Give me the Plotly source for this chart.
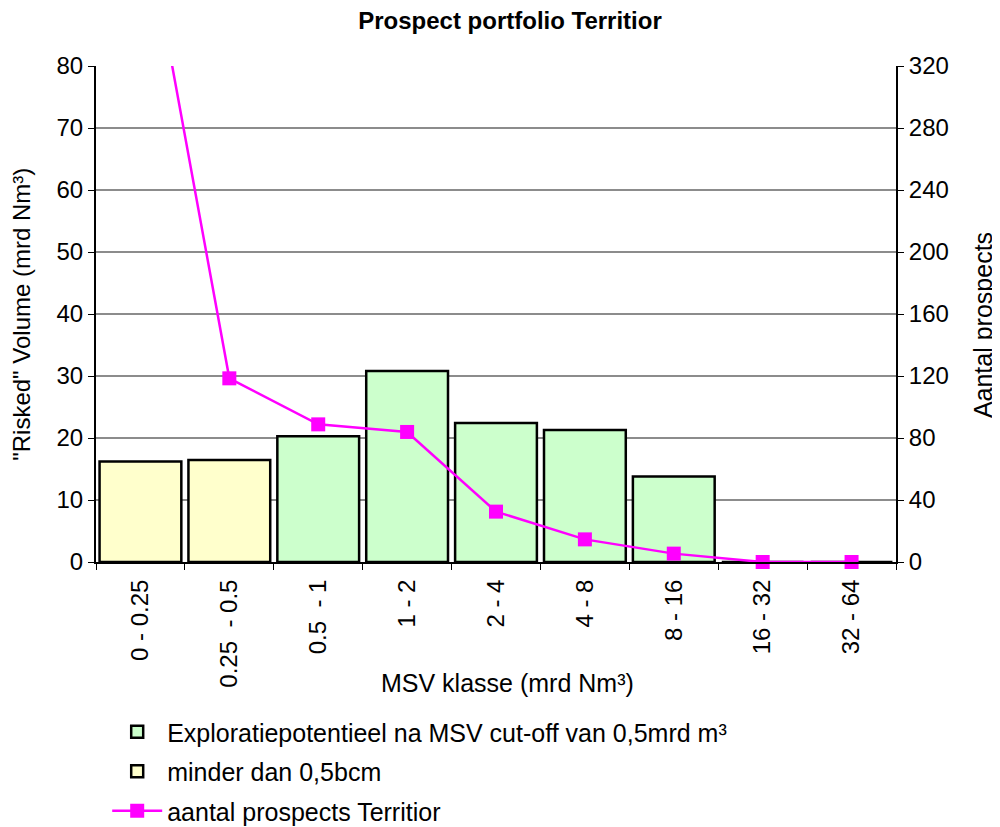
import plotly.graph_objects as go

# MSV classes and values
klassen = ["0 - 0.25", "0.25\u00a0\u00a0- 0.5", "0.5\u00a0\u00a0- 1", "1 - 2", "2 - 4",
           "4 - 8", "8 - 16", "16 - 32", "32 - 64"]
volume_laag = [16.2, 16.45, None, None, None, None, None, None, None]
volume_explo = [None, None, 20.3, 30.8, 22.4, 21.3, 13.8, 0, 0]
aantal = [432, 118.5, 88.8, 83.9, 32.5, 14.6, 5.4, 0, 0]

font = "Liberation Sans, Arial, sans-serif"
fs = 25

fig = go.Figure()
fig.add_trace(go.Bar(x=klassen, y=volume_explo, name="Exploratiepotentieel na MSV cut-off van 0,5mrd m³",
                     legendgroup="a",
                     marker=dict(color="#CCFFCC", line=dict(color="black", width=2.5))))
fig.add_trace(go.Bar(x=klassen, y=volume_laag, name="minder dan 0,5bcm", legendgroup="b",
                     marker=dict(color="#FFFFCC", line=dict(color="black", width=2.5))))
fig.add_trace(go.Scatter(x=klassen, y=aantal, name="aantal prospects Territior", yaxis="y2",
                         legendgroup="c", mode="lines+markers", cliponaxis=False,
                         line=dict(color="#FF00FF", width=2.5),
                         marker=dict(symbol="square", size=14, color="#FF00FF")))

# the page adds an 8px body margin, so the figure is 8px smaller to fit the window
fig.update_layout(
    width=992, height=819,
    margin=dict(l=88, r=104, t=58, b=265),
    plot_bgcolor="white", paper_bgcolor="white",
    font=dict(family=font, size=fs, color="black"),
    barmode="overlay", bargap=0.08,
    title=dict(text="<b>Prospect portfolio Territior</b>", x=0.5175, xref="paper",
               y=1 - 4 / 819, yanchor="top", xanchor="center", font=dict(size=24)),
    xaxis=dict(type="category", tickangle=-90, tickson="boundaries", ticks="outside",
               ticklen=6, tickcolor="black", showline=True, linecolor="black", linewidth=2,
               showgrid=False, range=[-0.5, 8.5], tickfont=dict(size=24),
               ticklabelstandoff=6),
    yaxis=dict(range=[0, 80], dtick=10, ticks="outside", ticklen=6, tickcolor="black",
               showline=True, linecolor="black", linewidth=2, showgrid=True,
               gridcolor="#8c8c8c", gridwidth=1.5, zeroline=False, tickfont=dict(size=24)),
    yaxis2=dict(range=[0, 320], dtick=40, overlaying="y", side="right", ticks="outside",
                ticklen=6, tickcolor="black", showline=True, linecolor="black", linewidth=2,
                showgrid=False, zeroline=False, tickfont=dict(size=24)),
    legend=dict(x=0.014, y=0.144, xref="paper", yref="container",
                xanchor="left", yanchor="top", orientation="v",
                font=dict(size=fs), itemwidth=50, tracegroupgap=4, traceorder="grouped"),
    annotations=[
        dict(text="MSV klasse (mrd Nm³)", x=0.514, y=-0.244, xref="paper", yref="paper",
             showarrow=False, xanchor="center", yanchor="middle"),
        dict(text="\"Risked\" Volume (mrd Nm³)", x=-0.094, y=0.5, xref="paper", yref="paper",
             showarrow=False, textangle=-90, xanchor="center", yanchor="middle",
             font=dict(size=24)),
        dict(text="Aantal prospects", x=1.109, y=0.478, xref="paper", yref="paper",
             showarrow=False, textangle=-90, xanchor="center", yanchor="middle"),
    ],
)

fig.write_html("out.html")
